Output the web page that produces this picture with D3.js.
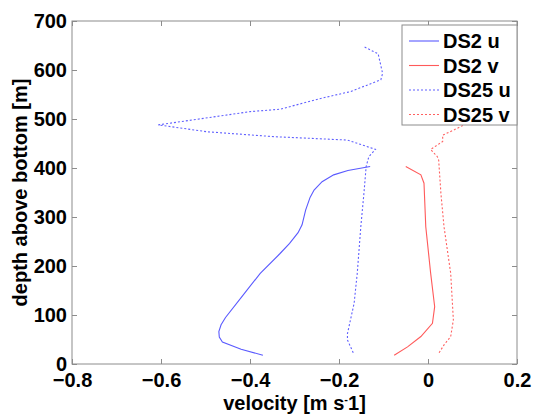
<!DOCTYPE html>
<html>
<head>
<meta charset="utf-8">
<script src="https://cdn.jsdelivr.net/npm/d3@7"></script>
<style>
  body { margin: 0; background: #fff; }
  svg text { font-family: "Liberation Sans", Arial, sans-serif; font-weight: bold; }
</style>
</head>
<body>
<svg width="533" height="417"></svg>
<script>
// velocity profiles (depth above bottom [m], velocity [m/s])
var ds2uDepth = [18, 30, 45, 55, 66, 80, 95, 140, 185, 225, 246, 268, 284, 314, 340, 355, 372, 386, 395, 403];
var ds2uVel   = [-0.371, -0.42, -0.462, -0.469, -0.470, -0.465, -0.455, -0.416, -0.377, -0.333, -0.311, -0.292, -0.283, -0.275, -0.265, -0.256, -0.238, -0.212, -0.180, -0.130];

var ds2vDepth = [18, 35, 56, 83, 117, 185, 280, 369, 386, 403];
var ds2vVel   = [-0.076, -0.046, -0.016, 0.010, 0.015, 0.006, -0.005, -0.009, -0.016, -0.050];

var ds25uDepth = [23, 49, 62, 124, 185, 280, 348, 403, 423, 438, 457, 464, 474, 488, 515, 520, 542, 556, 580, 593, 633, 648];
var ds25uVel   = [-0.168, -0.181, -0.181, -0.166, -0.159, -0.151, -0.144, -0.139, -0.133, -0.118, -0.181, -0.347, -0.497, -0.606, -0.400, -0.332, -0.241, -0.174, -0.106, -0.102, -0.112, -0.145];

var ds25vDepth = [23, 39, 56, 90, 185, 280, 348, 416, 423, 438, 454, 467, 478, 488];
var ds25vVel   = [0.025, 0.036, 0.051, 0.057, 0.051, 0.036, 0.029, 0.024, 0.021, 0.006, 0.033, 0.033, 0.059, 0.081];

var seriesNames = ["DS2 u", "DS2 v", "DS25 u", "DS25 v"];
var xTicks = [-0.8, -0.6, -0.4, -0.2, 0, 0.2];
var yTicks = [0, 100, 200, 300, 400, 500, 600, 700];

var svg = d3.select("svg"),
    margin = {top: 21, right: 16, bottom: 53, left: 72},
    width = 533 - margin.left - margin.right,
    height = 417 - margin.top - margin.bottom,
    g = svg.append("g").attr("transform", "translate(" + margin.left + "," + margin.top + ")");

var x = d3.scaleLinear().domain([-0.8, 0.2]).range([0, width]);
var y = d3.scaleLinear().domain([0, 700]).range([height, 0]);

var frameColor = "#8c8c8c";
var fontSize = "20px";

// build series from the arrays
var series = [
  {name: seriesNames[0], depth: ds2uDepth, vel: ds2uVel, color: "#5a5aff", dash: null},
  {name: seriesNames[1], depth: ds2vDepth, vel: ds2vVel, color: "#ff5a5a", dash: null},
  {name: seriesNames[2], depth: ds25uDepth, vel: ds25uVel, color: "#6060ff", dash: "2,2"},
  {name: seriesNames[3], depth: ds25vDepth, vel: ds25vVel, color: "#ff6060", dash: "2,2"}
];

var line = d3.line()
    .x(function(d) { return x(d[0]); })
    .y(function(d) { return y(d[1]); });

g.selectAll(".profile")
  .data(series)
  .enter().append("path")
    .attr("class", "profile")
    .attr("fill", "none")
    .attr("stroke", function(d) { return d.color; })
    .attr("stroke-width", 1.1)
    .attr("stroke-dasharray", function(d) { return d.dash; })
    .attr("d", function(d) { return line(d.vel.map(function(v, i) { return [v, d.depth[i]]; })); });

// axes: ticks inside, box on all four sides
function styleAxis(sel) {
  sel.select(".domain").remove();
  sel.selectAll(".tick line").attr("stroke", frameColor);
  sel.selectAll(".tick text").attr("fill", "#000").style("font-size", fontSize);
}

g.append("g")
    .attr("transform", "translate(0," + height + ")")
    .call(d3.axisBottom(x).tickValues(xTicks).tickSize(-5).tickPadding(9).tickFormat(d3.format("")))
    .call(styleAxis);

g.append("g")
    .call(d3.axisTop(x).tickValues(xTicks).tickSize(-5).tickFormat(""))
    .call(styleAxis);

g.append("g")
    .call(d3.axisLeft(y).tickValues(yTicks).tickSize(-5).tickPadding(5))
    .call(styleAxis);

g.append("g")
    .attr("transform", "translate(" + width + ",0)")
    .call(d3.axisRight(y).tickValues(yTicks).tickSize(-5).tickFormat(""))
    .call(styleAxis);

g.append("rect")
    .attr("width", width)
    .attr("height", height)
    .attr("fill", "none")
    .attr("stroke", frameColor)
    .attr("stroke-width", 1);

// legend
var legend = g.append("g").attr("transform", "translate(" + (width - 115) + ",4)");
legend.append("rect")
    .attr("width", 115)
    .attr("height", 100)
    .attr("fill", "#fff")
    .attr("stroke", frameColor);

var item = legend.selectAll(".item")
  .data(series)
  .enter().append("g")
    .attr("transform", function(d, i) { return "translate(0," + (16 + i * 24.5) + ")"; });

item.append("line")
    .attr("x1", 7).attr("x2", 37)
    .attr("stroke", function(d) { return d.color; })
    .attr("stroke-width", 1.1)
    .attr("stroke-dasharray", function(d) { return d.dash; });

item.append("text")
    .attr("x", 41)
    .attr("dy", "0.35em")
    .style("font-size", fontSize)
    .text(function(d) { return d.name; });

// axis labels
svg.append("text")
    .attr("transform", "translate(27," + (margin.top + height / 2) + ") rotate(-90)")
    .attr("text-anchor", "middle")
    .style("font-size", fontSize)
    .text("depth above bottom [m]");

var xl = svg.append("text")
    .attr("x", margin.left + width / 2)
    .attr("y", 410)
    .attr("text-anchor", "middle")
    .style("font-size", fontSize);
xl.append("tspan").text("velocity [m s");
xl.append("tspan").attr("dy", -7).style("font-size", "11px").text("-");
xl.append("tspan").attr("dy", 7).text("1]");
</script>
</body>
</html>
